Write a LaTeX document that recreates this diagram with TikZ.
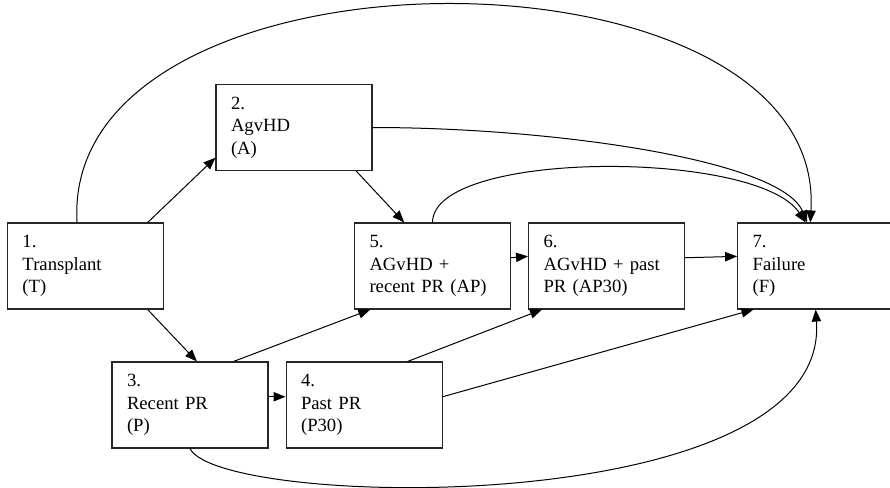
\documentclass[tikz,border=0pt]{standalone}
\usepackage{fontspec}
\setmainfont{Liberation Serif}
\usepackage{tikz}
\usetikzlibrary{arrows.meta, positioning}

\begin{document}
\begin{tikzpicture}[
        x=0.75pt, y=-0.75pt,
        state/.style={rectangle, draw=black!85, line width=0.8pt, minimum width=117pt, minimum height=64.5pt, text width=94.5pt, inner xsep=11.25pt, align=left, font=\fontsize{14}{17}\selectfont},
        line/.style={draw, line width=0.75pt, -{Triangle[length=9pt,width=7pt]}}
    ]
    \useasboundingbox (0,0) rectangle (890,487);

    % Nodes
    \node[state] (trans) at (85.5,266) {1.\\Transplant\\(T)};
    \node[state] (agvhd) at (294,127.5) {2.\\AgvHD\\(A)};
    \node[state] (recent) at (190,405) {3.\\Recent PR\\(P)};
    \node[state, right=12.75pt of recent] (past) {4.\\Past PR\\(P30)};
    \node[state] (aprecent) at (432.5,266) {5.\\AGvHD +\\recent PR (AP)};
    \node[state, right=12.75pt of aprecent] (appast) {6.\\AGvHD + past\\PR (AP30)};
    \node[state, right=39pt of appast] (fail) {7.\\Failure\\(F)};

    % Connections
    \path [line] (trans.35) -- (agvhd.201);
    \path [line] (trans.-35) -- (recent.81);
    \path [line] (agvhd.-35) -- (aprecent.123);
    \path [line] (recent.45) -- (aprecent.215);
    \path [line] (recent.6) -- (past.174);
    \path [line] (past.45) -- (appast.214);
    \path [line] (aprecent.6.5) -- (appast.173.5);
    \path [line] (appast.6.5) -- (fail.173.5);
    \path [line] (past.6) -- (fail.215);

    % Curved connections into failure
    \path [line] (trans.101) .. controls +(-17,-290) and +(17,-290) .. (fail.97);
    \path [line] (agvhd.east) .. controls +(178,0) and +(-26,-63) .. (fail.101);
    \path [line] (aprecent.north) .. controls +(0,-73) and +(-48,-73) .. (fail.103);
    \path [line] (recent.south) .. controls +(30,61) and +(15,211) .. (fail.south);

\end{tikzpicture}
\end{document}
